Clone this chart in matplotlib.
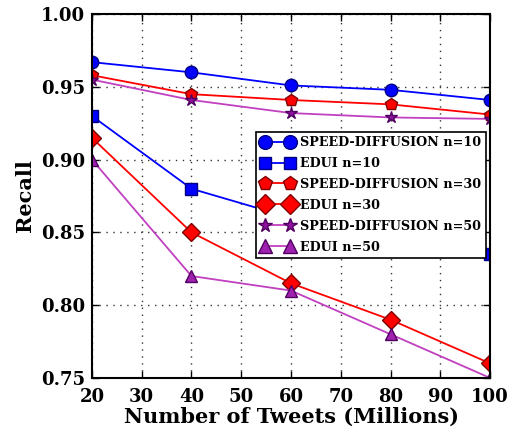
import numpy as np
import matplotlib
matplotlib.use("Agg")
import matplotlib.pyplot as plt

plt.rc('font', family='DejaVu Serif', weight='bold', size=13)

# data
tweets = [20, 40, 60, 80, 100]
sd_10 = [0.967, 0.960, 0.951, 0.948, 0.941]
edui_10 = [0.930, 0.880, 0.860, 0.850, 0.835]
sd_30 = [0.958, 0.945, 0.941, 0.938, 0.931]
edui_30 = [0.915, 0.850, 0.815, 0.790, 0.760]
sd_50 = [0.955, 0.941, 0.932, 0.929, 0.928]
edui_50 = [0.900, 0.820, 0.810, 0.780, 0.750]

fig = plt.figure(figsize=(5.11, 4.42), dpi=100, facecolor="white")
ax = fig.add_axes([0.18, 0.145, 0.779, 0.823])

ax.plot(tweets, sd_10, color="blue", marker="o", markersize=9, lw=1.3,
        markeredgecolor="#000080", label="SPEED-DIFFUSION n=10")
ax.plot(tweets, edui_10, color="blue", marker="s", markersize=8, lw=1.3,
        markeredgecolor="#000080", label="EDUI n=10")
ax.plot(tweets, sd_30, color="red", marker="p", markersize=9, lw=1.3,
        markeredgecolor="#800000", label="SPEED-DIFFUSION n=30")
ax.plot(tweets, edui_30, color="red", marker="D", markersize=9, lw=1.3,
        markeredgecolor="#800000", label="EDUI n=30")
ax.plot(tweets, sd_50, color="#c040c0", marker="*", markersize=9, lw=1.3,
        markerfacecolor="#9010a0", markeredgecolor="#500060",
        label="SPEED-DIFFUSION n=50")
ax.plot(tweets, edui_50, color="#c040c0", marker="^", markersize=9, lw=1.3,
        markerfacecolor="#a020b0", markeredgecolor="#500060",
        label="EDUI n=50")

ax.set_xlim(20, 100)
ax.set_ylim(0.75, 1.00)
ax.set_xticks(np.arange(20, 101, 10))
ax.set_yticks(np.arange(0.75, 1.001, 0.05))
ax.set_yticklabels(["%.2f" % v for v in np.arange(0.75, 1.001, 0.05)])
ax.grid(True, color="#333333", linestyle=(0, (1, 4)), linewidth=1.0)
for s in ax.spines.values():
    s.set_linewidth(1.5)
ax.tick_params(labelsize=13, width=1, direction="in", top=True, right=True,
               length=5)
ax.tick_params(axis="x", pad=7)
ax.tick_params(axis="y", pad=5)

ax.set_xlabel("Number of Tweets (Millions)", fontsize=15, fontweight="bold",
              labelpad=1)
ax.set_ylabel("Recall", fontsize=15, fontweight="bold")

leg = ax.legend(loc="upper right", bbox_to_anchor=(0.99, 0.677),
                fontsize=9.2, numpoints=2, fancybox=False,
                borderaxespad=0, handlelength=2.6, labelspacing=0.62,
                borderpad=0.35, handletextpad=0.5, markerscale=1.1)
leg.get_frame().set_edgecolor("black")
leg.get_frame().set_linewidth(1.2)
leg.get_frame().set_alpha(1)

fig.savefig("out.png", dpi=100)
